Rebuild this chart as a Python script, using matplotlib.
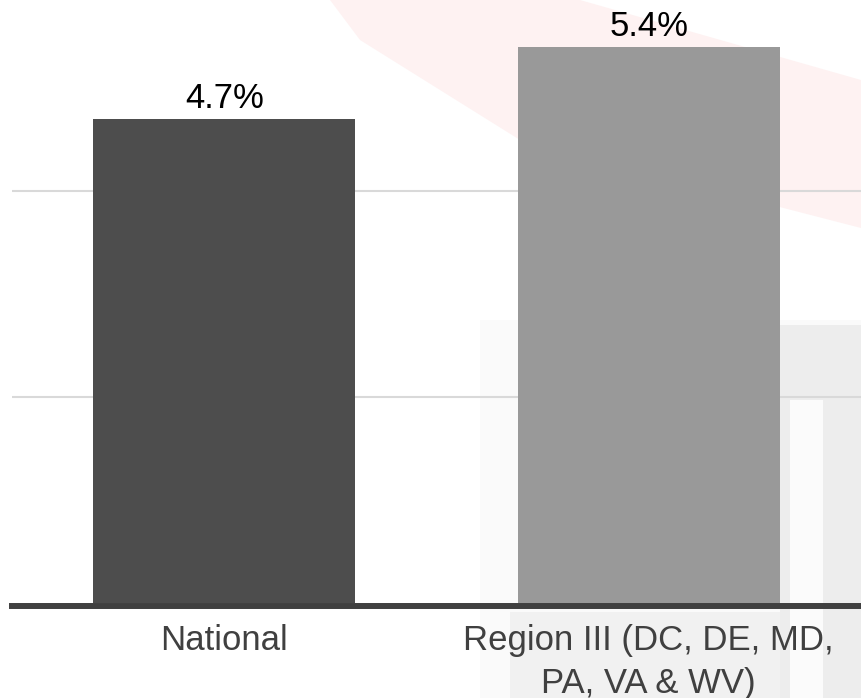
import matplotlib.pyplot as plt
from matplotlib.patches import Polygon, Rectangle

categories = ['National', 'Region III (DC, DE, MD,\nPA, VA & WV)']
values = [4.7, 5.4]
value_labels = ['4.7%', '5.4%']
bar_colors = ['#4d4d4d', '#999999']

W, H = 861, 698
plt.rcParams['font.family'] = ['Liberation Sans', 'DejaVu Sans']

fig = plt.figure(figsize=(W / 100, H / 100), dpi=100)

# фоновая ось для бледного водяного знака (координаты в пикселях)
bg = fig.add_axes([0, 0, 1, 1], zorder=-1)
bg.set_xlim(0, W)
bg.set_ylim(H, 0)
bg.axis('off')
bg.add_patch(Polygon([(330, 0), (580, 0), (861, 80), (861, 228),
                      (520, 140), (360, 40)],
                     closed=True, facecolor='#fef2f2', edgecolor='none'))
bg.add_patch(Rectangle((480, 320), 381, 378, facecolor='#fafafa', edgecolor='none'))
bg.add_patch(Rectangle((780, 325), 81, 373, facecolor='#ededed', edgecolor='none'))
bg.add_patch(Rectangle((790, 400), 33, 298, facecolor='#fbfbfb', edgecolor='none'))
bg.add_patch(Rectangle((510, 612), 270, 86, facecolor='#f1f1f1', edgecolor='none'))

ax = fig.add_axes([12 / W, 95 / H, 1 - 12 / W, 1 - 95 / H])
ax.patch.set_alpha(0)

x = range(len(categories))
ax.bar(x, values, width=0.618, color=bar_colors, zorder=2)
for xi, v, lab in zip(x, values, value_labels):
    ax.text(xi, v + 0.105, lab, ha='center', va='baseline', fontsize=25,
            color='black')

# подписи категорий вручную, чтобы задать межстрочный интервал
for xi, cat in zip(x, categories):
    ax.annotate(cat, xy=(xi, 0), xycoords=('data', 'axes fraction'),
                xytext=(0, -15.3), textcoords='offset points',
                ha='center', va='top', fontsize=25, color='#404040',
                linespacing=1.38, annotation_clip=False)

ax.set_xlim(-0.5, 1.5)
ax.set_ylim(0, 603 / 103)
ax.set_yticks([2, 4])
ax.set_xticks([])
ax.grid(axis='y', color='#d9d9d9', lw=1.5, zorder=1)
ax.tick_params(axis='y', left=False, labelleft=False)

for s in ['top', 'right', 'left']:
    ax.spines[s].set_visible(False)
ax.spines['bottom'].set_color('#404040')
ax.spines['bottom'].set_linewidth(4.3)
ax.spines['bottom'].set_position(('outward', 2.2))
ax.spines['bottom'].set_zorder(3)

fig.savefig('out.png', dpi=100)
